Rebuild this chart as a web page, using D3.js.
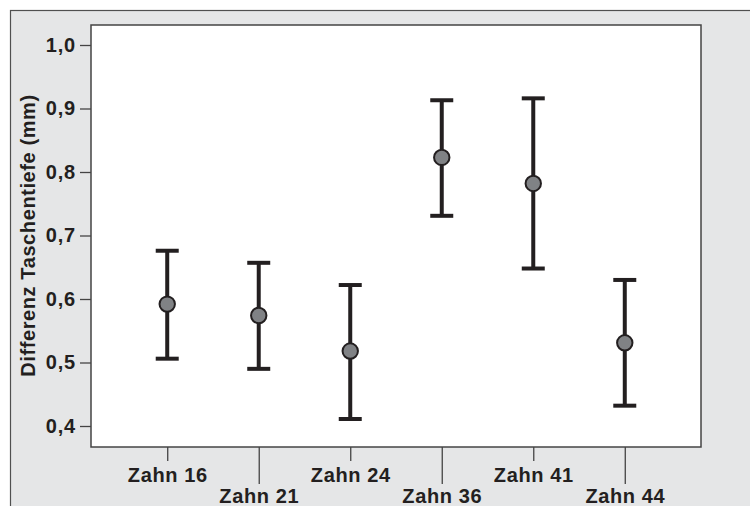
<!DOCTYPE html>
<html>
<head>
<meta charset="utf-8">
<script src="https://cdn.jsdelivr.net/npm/d3@7"></script>
<style>
  body { margin: 0; background: #fff; }
  svg { display: block; font-family: "Liberation Sans", Arial, sans-serif; }
</style>
</head>
<body>
<div class="chart"></div>
<script>
// data
const teeth = ["Zahn 16", "Zahn 21", "Zahn 24", "Zahn 36", "Zahn 41", "Zahn 44"];
const means = [0.592, 0.574, 0.518, 0.823, 0.782, 0.531];
const lower = [0.506, 0.490, 0.411, 0.731, 0.648, 0.432];
const upper = [0.676, 0.657, 0.622, 0.913, 0.916, 0.630];
const yTicks = [0.4, 0.5, 0.6, 0.7, 0.8, 0.9, 1.0];

function ErrorBarChart(container) {
    const width = 750, height = 506;
    const plot = { left: 91, top: 25, right: 701, bottom: 447 };
    const ink = "#231f20";

    const svg = d3.select(container)
        .append("svg")
        .attr("width", width)
        .attr("height", height);

    // grey outer panel
    svg.append("rect")
        .attr("x", 10.5).attr("y", 10.5)
        .attr("width", width).attr("height", height)
        .attr("fill", "#e5e6e7")
        .attr("stroke", "#505050")
        .attr("stroke-width", 1.2);

    // white plot area
    svg.append("rect")
        .attr("x", plot.left).attr("y", plot.top)
        .attr("width", plot.right - plot.left)
        .attr("height", plot.bottom - plot.top)
        .attr("fill", "#fff")
        .attr("stroke", "#444")
        .attr("stroke-width", 1.5);

    const xScale = d3.scalePoint()
        .domain(teeth)
        .range([plot.left, plot.right])
        .padding(0.833);

    const yScale = d3.scaleLinear()
        .domain([0.4 - 21 / 635, 1.0 + 20 / 635])
        .range([plot.bottom, plot.top]);

    const fmt = d => d3.format(".1f")(d).replace(".", ",");

    // y axis
    const yAxis = svg.append("g")
        .attr("transform", `translate(${plot.left}, 0)`)
        .call(d3.axisLeft(yScale).tickValues(yTicks).tickFormat(fmt).tickSize(11).tickPadding(4));
    yAxis.select(".domain").remove();
    yAxis.selectAll("line").attr("stroke", "#444").attr("stroke-width", 1.3);
    yAxis.selectAll("text")
        .attr("fill", ink)
        .attr("font-size", 20)
        .attr("font-weight", "bold")
        .attr("letter-spacing", 0.8)
        .attr("font-family", "Liberation Sans, Arial, sans-serif");

    // x axis with alternating tick lengths
    const xAxis = svg.append("g")
        .attr("transform", `translate(0, ${plot.bottom})`)
        .call(d3.axisBottom(xScale).tickSize(0).tickPadding(0));
    xAxis.select(".domain").remove();
    xAxis.selectAll(".tick line")
        .attr("stroke", "#444")
        .attr("stroke-width", 1.3)
        .attr("y2", (d, i) => i % 2 ? 37 : 14);
    xAxis.selectAll(".tick text")
        .attr("fill", ink)
        .attr("font-size", 20)
        .attr("font-weight", "bold")
        .attr("letter-spacing", 0.6)
        .attr("font-family", "Liberation Sans, Arial, sans-serif")
        .attr("dy", null)
        .attr("y", (d, i) => i % 2 ? 55.5 : 34.5);

    // y axis title
    svg.append("text")
        .attr("transform", `translate(35, ${(95 + 376) / 2}) rotate(-90)`)
        .attr("text-anchor", "middle")
        .attr("fill", ink)
        .attr("font-size", 20)
        .attr("font-weight", "bold")
        .attr("letter-spacing", 0.6)
        .text("Differenz Taschentiefe (mm)");

    const rows = teeth.map((t, i) => ({ t, m: means[i], lo: lower[i], hi: upper[i] }));
    const bars = svg.append("g").selectAll("g").data(rows).join("g");

    bars.append("line")
        .attr("x1", d => xScale(d.t)).attr("x2", d => xScale(d.t))
        .attr("y1", d => yScale(d.lo)).attr("y2", d => yScale(d.hi))
        .attr("stroke", ink).attr("stroke-width", 4);

    bars.selectAll(".cap")
        .data(d => [d.lo, d.hi].map(v => ({ t: d.t, v })))
        .join("line")
        .attr("class", "cap")
        .attr("x1", d => xScale(d.t) - 11.5).attr("x2", d => xScale(d.t) + 11.5)
        .attr("y1", d => yScale(d.v)).attr("y2", d => yScale(d.v))
        .attr("stroke", ink).attr("stroke-width", 4);

    bars.append("circle")
        .attr("cx", d => xScale(d.t))
        .attr("cy", d => yScale(d.m))
        .attr("r", 7.7)
        .attr("fill", "#808285")
        .attr("stroke", ink)
        .attr("stroke-width", 2);
}

ErrorBarChart(".chart");
</script>
</body>
</html>
